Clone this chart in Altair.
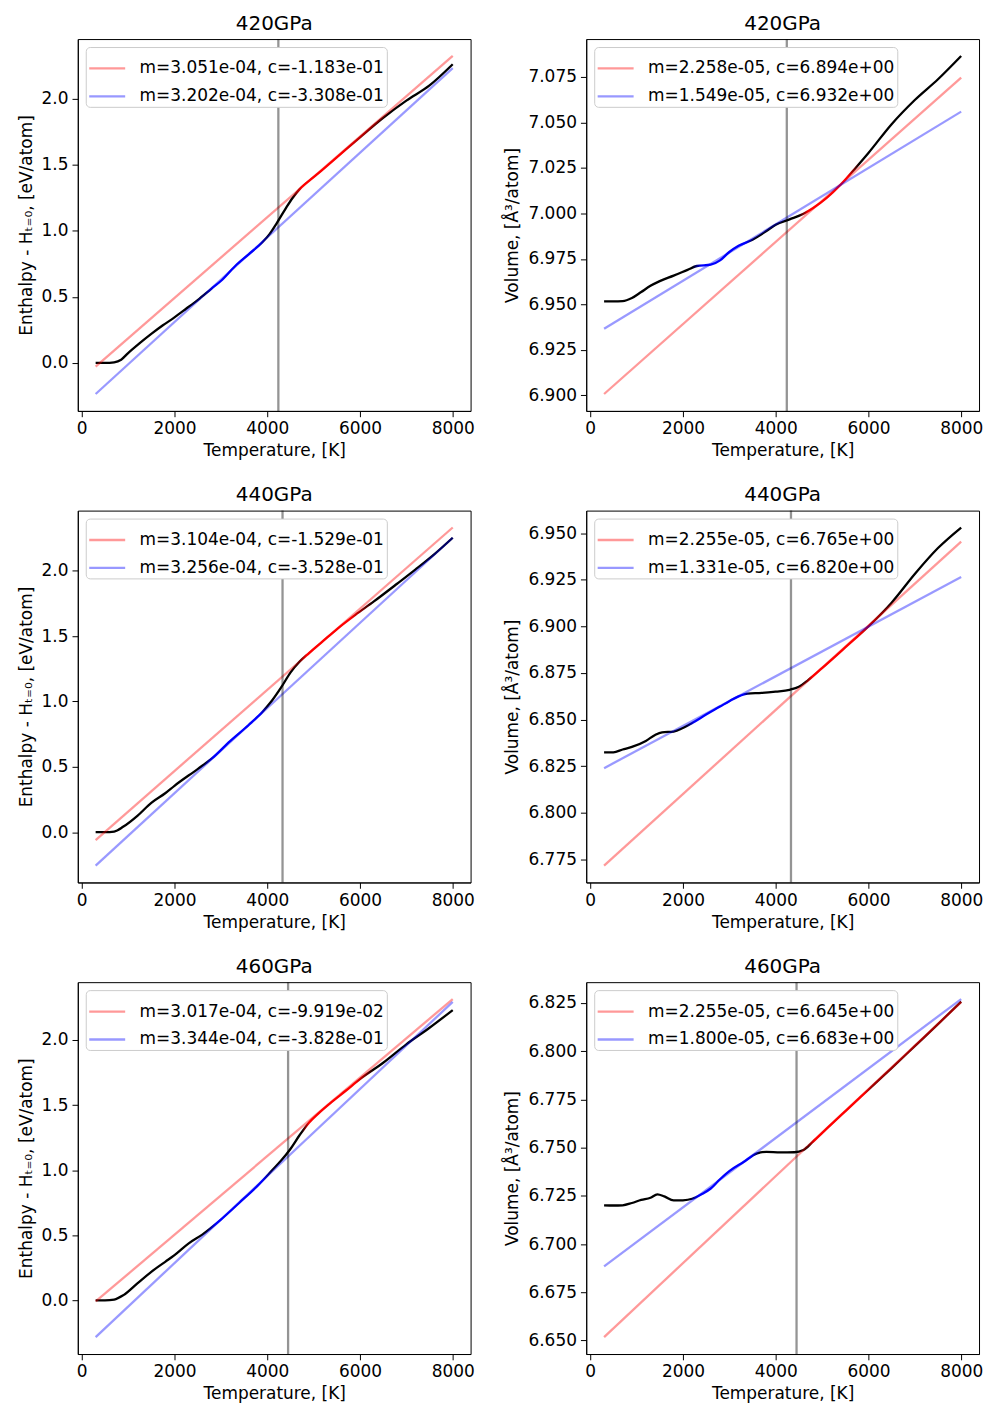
import altair as alt
import pandas as pd

# ---------------- data ----------------
titles = ["420GPa", "440GPa", "460GPa"]
melt_T = [4240, 4330, 4450]

# Enthalpy - H(T=0) curves [eV/atom]
h420_T = [300, 500, 700, 850, 1000, 1250, 1500, 1750, 2000, 2250, 2500, 2800, 3000, 3300, 3600, 3900, 4050, 4200, 4400, 4550, 4700, 5000, 5500, 6000, 6500, 7000, 7500, 8000]
h420_H = [0.0, 0.0, 0.005, 0.025, 0.075, 0.15, 0.22, 0.285, 0.345, 0.41, 0.476, 0.563, 0.62, 0.73, 0.822, 0.915, 0.975, 1.055, 1.17, 1.25, 1.315, 1.405, 1.555, 1.707, 1.855, 1.985, 2.1, 2.26]

h440_T = [300, 500, 700, 900, 1200, 1500, 1800, 2000, 2500, 2800, 3200, 3600, 3900, 4100, 4300, 4500, 4700, 4900, 5200, 5500, 5900, 6300, 6800, 7200, 7600, 8000]
h440_H = [0.0, 0.0, 0.005, 0.043, 0.125, 0.225, 0.298, 0.355, 0.483, 0.562, 0.697, 0.82, 0.922, 1.005, 1.107, 1.221, 1.305, 1.37, 1.461, 1.552, 1.662, 1.765, 1.9, 2.01, 2.125, 2.252]

h460_T = [300, 500, 700, 900, 1200, 1500, 1800, 2000, 2300, 2600, 3000, 3400, 3800, 4100, 4300, 4500, 4700, 4900, 5100, 5400, 5700, 6000, 6500, 7000, 7500, 8000]
h460_H = [0.0, 0.0, 0.006, 0.04, 0.13, 0.219, 0.296, 0.347, 0.436, 0.505, 0.62, 0.75, 0.883, 0.997, 1.074, 1.163, 1.27, 1.365, 1.435, 1.527, 1.612, 1.7, 1.825, 1.967, 2.094, 2.23]

# Volume curves [A^3/atom]
v420_T = [300, 500, 700, 900, 1100, 1300, 1500, 1800, 2100, 2300, 2600, 2800, 3000, 3200, 3500, 3800, 4000, 4300, 4600, 4800, 5100, 5400, 5700, 6000, 6500, 7000, 7500, 8000]
v420_V = [6.9517, 6.9517, 6.9518, 6.9535, 6.9568, 6.9602, 6.9628, 6.9658, 6.9690, 6.9711, 6.9718, 6.9742, 6.9788, 6.9822, 6.9855, 6.9903, 6.9938, 6.9967, 6.9998, 7.0028, 7.0085, 7.0157, 7.0243, 7.0332, 7.0490, 7.0623, 7.0737, 7.0865]

v440_T = [300, 500, 700, 900, 1200, 1400, 1550, 1800, 2000, 2200, 2500, 2800, 3000, 3200, 3400, 3700, 4000, 4300, 4500, 4700, 5000, 5500, 6000, 6500, 7000, 7500, 8000]
v440_V = [6.8324, 6.8325, 6.8340, 6.8354, 6.8386, 6.8418, 6.8432, 6.8436, 6.8455, 6.8482, 6.8527, 6.8570, 6.8599, 6.8625, 6.8640, 6.8643, 6.8650, 6.8660, 6.8676, 6.8712, 6.8776, 6.8887, 6.9000, 6.9127, 6.9281, 6.9420, 6.9530]

v460_T = [300, 500, 700, 900, 1100, 1300, 1450, 1600, 1800, 2000, 2200, 2400, 2600, 2800, 3000, 3300, 3600, 3800, 4100, 4400, 4600, 4800, 5100, 5500, 6000, 6500, 7000, 7500, 8000]
v460_V = [6.7201, 6.7200, 6.7201, 6.7213, 6.7229, 6.7240, 6.7258, 6.7247, 6.7226, 6.7227, 6.7235, 6.7258, 6.7288, 6.7336, 6.7378, 6.7424, 6.7470, 6.7478, 6.7475, 6.7476, 6.7488, 6.7530, 6.7598, 6.7688, 6.7800, 6.7912, 6.8026, 6.8140, 6.8257]

# Linear fits (slope m, intercept c) shown in the legends
fit_h_m_red = [3.051e-04, 3.104e-04, 3.017e-04]
fit_h_c_red = [-1.183e-01, -1.529e-01, -9.919e-02]
fit_h_m_blue = [3.202e-04, 3.256e-04, 3.344e-04]
fit_h_c_blue = [-3.308e-01, -3.528e-01, -3.828e-01]
fit_v_m_red = [2.258e-05, 2.255e-05, 2.255e-05]
fit_v_c_red = [6.894e+00, 6.765e+00, 6.645e+00]
fit_v_m_blue = [1.549e-05, 1.331e-05, 1.800e-05]
fit_v_c_blue = [6.932e+00, 6.820e+00, 6.683e+00]
fit_T_range = [300, 8000]

# Tick labels
x_ticks = [0, 2000, 4000, 6000, 8000]
h_ticks = [0.0, 0.5, 1.0, 1.5, 2.0]
v420_ticks = [6.900, 6.925, 6.950, 6.975, 7.000, 7.025, 7.050, 7.075]
v440_ticks = [6.775, 6.800, 6.825, 6.850, 6.875, 6.900, 6.925, 6.950]
v460_ticks = [6.650, 6.675, 6.700, 6.725, 6.750, 6.775, 6.800, 6.825]

# Colour stops along each curve (temperature, colour): fit windows highlighted
stops_h420 = [(300, "black"), (2650, "black"), (2850, "blue"), (3800, "blue"), (4000, "black"), (4550, "black"), (4750, "red"), (5600, "red"), (6600, "black"), (8000, "black")]
stops_v420 = [(300, "black"), (2200, "black"), (2400, "blue"), (3350, "blue"), (3550, "black"), (4500, "black"), (4700, "red"), (5550, "red"), (5800, "black"), (8000, "black")]
stops_h440 = [(300, "black"), (2650, "black"), (2850, "blue"), (3850, "blue"), (4000, "black"), (4700, "black"), (4850, "red"), (5800, "red"), (6300, "black"), (8000, "black")]
stops_v440 = [(300, "black"), (2050, "black"), (2250, "blue"), (3300, "blue"), (3450, "black"), (4650, "black"), (4800, "red"), (5750, "red"), (6500, "black"), (8000, "black")]
stops_h460 = [(300, "black"), (2700, "black"), (2900, "blue"), (3900, "blue"), (4100, "black"), (4750, "black"), (4900, "red"), (5900, "red"), (6300, "black"), (8000, "black")]
stops_v460 = [(300, "black"), (2150, "black"), (2350, "blue"), (3450, "blue"), (3650, "black"), (4700, "black"), (4850, "red"), (5900, "red"), (6050, "#6a0000"), (8000, "#5a0000")]

H_TITLE = "Enthalpy - H\u209c\u208c\u2080, [eV/atom]"
V_TITLE = "Volume, [\u00c5\u00b3/atom]"


def panel(T, Y, m_r, c_r, m_b, c_b, tm, title, ytitle, yticks, yfmt, stops):
    curve = pd.DataFrame({"T": T, "Y": Y})
    lab_r = f"m={m_r:.3e}, c={c_r:.3e}"
    lab_b = f"m={m_b:.3e}, c={c_b:.3e}"
    t0, t1 = fit_T_range
    fits = pd.DataFrame({
        "T": [t0, t1, t0, t1],
        "Y": [m_r * t0 + c_r, m_r * t1 + c_r, m_b * t0 + c_b, m_b * t1 + c_b],
        "fit": [lab_r, lab_r, lab_b, lab_b],
    })
    ally = list(Y) + list(fits["Y"])
    lo, hi = min(ally), max(ally)
    pad = 0.05 * (hi - lo)
    tpad = 0.05 * (t1 - t0)
    xs = alt.Scale(domain=[t0 - tpad, t1 + tpad], nice=False, zero=False)
    ys = alt.Scale(domain=[lo - pad, hi + pad], nice=False, zero=False)
    X = alt.X("T:Q", scale=xs, axis=alt.Axis(values=x_ticks, format="d", title="Temperature, [K]"))
    Yenc = alt.Y("Y:Q", scale=ys, axis=alt.Axis(values=yticks, format=yfmt, title=ytitle))
    grad = alt.LinearGradient(
        gradient="linear", x1=0, x2=1, y1=0, y2=0,
        stops=[alt.GradientStop(color=c, offset=(t - t0) / (t1 - t0)) for t, c in stops],
    )
    c1 = alt.Chart(curve).mark_line(color=grad, strokeWidth=2.3, interpolate="monotone").encode(x=X, y=Yenc)
    c2 = alt.Chart(fits).mark_line(strokeWidth=2.3, opacity=0.4).encode(
        x=X, y=Yenc,
        color=alt.Color("fit:N", scale=alt.Scale(domain=[lab_r, lab_b], range=["red", "blue"]),
                        legend=alt.Legend(title=None)),
        detail="fit:N",
    )
    c3 = alt.Chart(pd.DataFrame({"T": [tm]})).mark_rule(color="black", opacity=0.42, strokeWidth=2.3).encode(x=X)
    return alt.layer(c1, c2, c3).properties(width=394, height=373, title=title)


panels = []
H = [(h420_T, h420_H, stops_h420), (h440_T, h440_H, stops_h440), (h460_T, h460_H, stops_h460)]
V = [(v420_T, v420_V, stops_v420, v420_ticks), (v440_T, v440_V, stops_v440, v440_ticks), (v460_T, v460_V, stops_v460, v460_ticks)]
for i in range(3):
    panels.append(panel(H[i][0], H[i][1], fit_h_m_red[i], fit_h_c_red[i], fit_h_m_blue[i], fit_h_c_blue[i],
                        melt_T[i], titles[i], H_TITLE, h_ticks, ".1f", H[i][2]))
    panels.append(panel(V[i][0], V[i][1], fit_v_m_red[i], fit_v_c_red[i], fit_v_m_blue[i], fit_v_c_blue[i],
                        melt_T[i], titles[i], V_TITLE, V[i][3], ".3f", V[i][2]))

chart = alt.concat(*panels, columns=2, spacing={"row": 100, "column": 116}, bounds="flush").resolve_scale(
    x="independent", y="independent", color="independent"
).properties(
    padding={"left": 8, "top": 3, "right": 5, "bottom": 5}
).configure(font="DejaVu Sans").configure_view(stroke="black", strokeWidth=1).configure_axis(
    domainColor="black", tickColor="black", labelColor="black", titleColor="black",
    labelFontSize=17, titleFontSize=17, titleFontWeight="normal", tickSize=5.8,
    labelPadding=4, grid=False, titlePadding=6,
).configure_title(
    fontSize=20, fontWeight="normal", color="black", offset=4, anchor="middle"
).configure_legend(
    orient="top-left", offset=8, padding=2, fillColor="white", strokeColor="#cccccc",
    cornerRadius=4, labelFontSize=17, symbolType="stroke", symbolStrokeWidth=2.3,
    symbolSize=1300, labelOffset=13, rowPadding=-6, labelLimit=400, symbolOpacity=0.4,
    labelColor="black",
)

chart.save("out.html", embed_options={"renderer": "svg", "actions": False})
